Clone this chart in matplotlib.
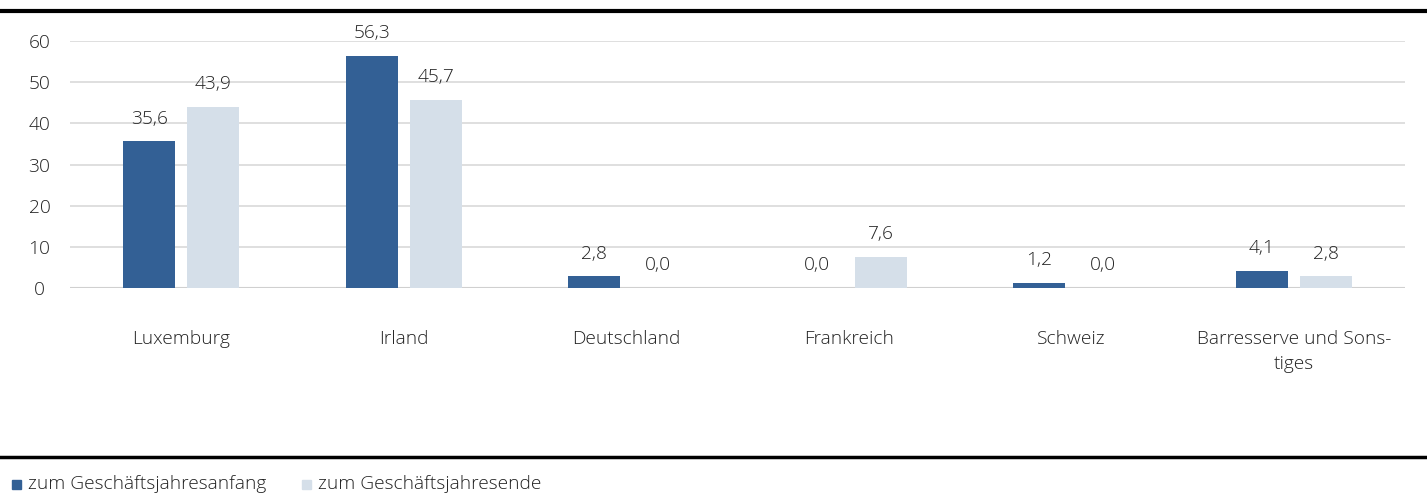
import matplotlib
matplotlib.use("Agg")
import matplotlib.pyplot as plt
from matplotlib.lines import Line2D
from matplotlib.patches import Rectangle
import numpy as np

categories = ["Luxemburg", "Irland", "Deutschland", "Frankreich", "Schweiz",
              "Barresserve und Sons-\ntiges"]
start_values = [35.6, 56.3, 2.8, 0.0, 1.2, 4.1]
end_values = [43.9, 45.7, 0.0, 7.6, 0.0, 2.8]
series_names = ["zum Geschäftsjahresanfang", "zum Geschäftsjahresende"]
yticks = [0, 10, 20, 30, 40, 50, 60]

dark = "#336095"
light = "#d5dfe9"
font = "Open Sans"
plt.rcParams["font.family"] = [font, "DejaVu Sans"]
plt.rcParams["font.weight"] = 300
fs = 13.8
tc = "#222222"

W, H = 1427, 495
fig = plt.figure(figsize=(W / 100, H / 100), dpi=100)
ax = fig.add_axes([70 / W, 1 - 288 / H, (1405 - 70) / W, (288 - 41) / H])

x = np.arange(len(categories))
bw = 0.234
off = 0.144
b1 = ax.bar(x - off, start_values, bw, color=dark, zorder=3)
b2 = ax.bar(x + off, end_values, bw, color=light, zorder=3)

def fmt(v):
    return f"{v:.1f}".replace(".", ",")

for bars, vals in ((b1, start_values), (b2, end_values)):
    for rect, v in zip(bars, vals):
        ax.annotate(fmt(v), (rect.get_x() + rect.get_width() / 2, v),
                    xytext=(0, 16.5), textcoords="offset points",
                    ha="center", va="center", fontsize=fs, color=tc)

ax.set_xlim(-0.5, len(categories) - 0.5)
ax.set_ylim(0, 60)
ax.set_yticks(yticks)
ax.set_yticklabels([str(t) for t in yticks])
ax.set_xticks(x)
ax.set_xticklabels(categories, linespacing=1.55)
ax.tick_params(axis="x", length=0, pad=30, labelsize=fs, labelcolor=tc)
ax.tick_params(axis="y", length=0, labelsize=fs, labelcolor=tc)
for lab in ax.get_yticklabels():
    lab.set_ha("center")
ax.yaxis.set_tick_params(pad=22)
ax.grid(axis="y", color="#d9d9d9", linewidth=1.2, zorder=0)
for s in ax.spines.values():
    s.set_visible(False)
ax.axhline(0, color="#d0d0d0", linewidth=1.5, zorder=2)

# black rules
fig.add_artist(Line2D([0, 1], [1 - 11 / H, 1 - 11 / H], color="black", linewidth=3,
                      transform=fig.transFigure))
fig.add_artist(Line2D([0, 1], [1 - 457 / H, 1 - 457 / H], color="black", linewidth=2.5,
                      transform=fig.transFigure))

# legend
ly = 1 - 484 / H
for xpx, col, name in ((12, dark, series_names[0]), (302, light, series_names[1])):
    fig.add_artist(Rectangle((xpx / W, ly - 4.5 / H), 9 / W, 9 / H, color=col,
                             transform=fig.transFigure))
    fig.text((xpx + 16) / W, ly, name, ha="left", va="center", fontsize=fs,
             color=tc)

fig.savefig("out.png", dpi=100)
